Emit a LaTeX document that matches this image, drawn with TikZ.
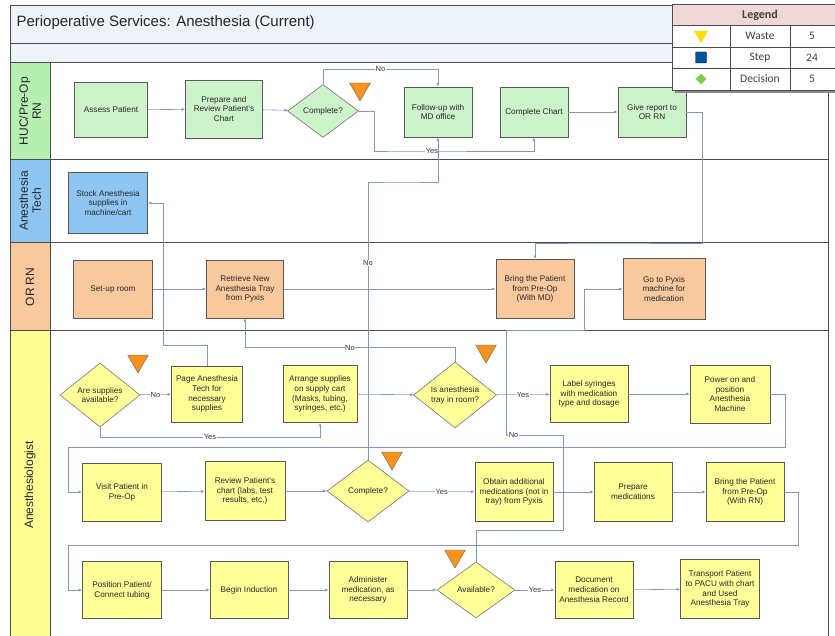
\documentclass[tikz,border=0pt]{standalone}
\usepackage{fontspec}
\setmainfont{Liberation Sans}
\newfontfamily\legendfont{Carlito}
\usetikzlibrary{shapes.geometric,arrows.meta}

\definecolor{hucgreen}{HTML}{CDF3CB}
\definecolor{huclane}{HTML}{B7EFB2}
\definecolor{techblue}{HTML}{8EC6F1}
\definecolor{ororange}{HTML}{F9C99E}
\definecolor{anyellow}{HTML}{FFFF99}
\definecolor{anlane}{HTML}{FFFF94}
\definecolor{wasteorange}{HTML}{F6921E}
\definecolor{flowline}{HTML}{7E97C6}
\definecolor{titlebg}{HTML}{EEF2F9}
\definecolor{legendpink}{HTML}{F1D8D8}

\tikzset{
  stepbox/.style={draw=black!65, fill=#1, line width=0.8pt, align=center,
    inner sep=1pt, text=black!85, font=\fontsize{8.2}{9.8}\selectfont},
  decision/.style={diamond, draw=black!55, fill=#1, line width=0.6pt, align=center,
    inner sep=0pt, text=black!85, font=\fontsize{8.2}{9.8}\selectfont},
  waste/.style={regular polygon, regular polygon sides=3, shape border rotate=180,
    draw=black!60, fill=wasteorange, minimum size=24pt, inner sep=0pt},
  flow/.style={draw=flowline, line width=0.6pt, -{Latex[length=3.5pt,width=3pt]}},
  lbl/.style={font=\fontsize{7.5}{8}\selectfont, fill=white, inner sep=0.6pt, text=black!80},
  lanelbl/.style={rotate=90, align=center, font=\fontsize{12}{13}\selectfont, text=black!85},
  legendtxt/.style={font=\legendfont\fontsize{11.5}{12}\selectfont, text=black!75}
}

\begin{document}
\begin{tikzpicture}[x=1pt, y=-1pt]
\useasboundingbox (0,0) rectangle (835,636);

% frame and lanes
\fill[titlebg] (10,5) rectangle (828,63);
\fill[huclane] (10,63) rectangle (50,160);
\fill[techblue] (10,160) rectangle (50,243);
\fill[ororange] (10,243) rectangle (50,330);
\fill[anlane] (10,330) rectangle (50,636);
\draw[black!70, line width=0.8pt] (10,636) -- (10,5) -- (828,5) -- (828,636);
\draw[black!70, line width=0.8pt] (10,43) -- (828,43);
\foreach \ly in {63,160,243,330}
  \draw[black!70, line width=1pt] (10,\ly) -- (828,\ly);
\draw[black!70, line width=0.8pt] (50,63) -- (50,636);
\node[anchor=west, font=\fontsize{15}{16}\selectfont, text=black!85] (title) at (13,23)
  {Perioperative Services: Anesthesia (Current)};

\node[lanelbl] (lanehuc) at (30,111) {HUC/Pre-Op\\RN};
\node[lanelbl] (lanetech) at (30,201) {Anesthesia\\Tech};
\node[lanelbl] (laneor) at (30,287) {OR RN};
\node[lanelbl] (lanean) at (30,485) {Anesthesiologist};

% HUC/Pre-Op RN
\node[stepbox=hucgreen, minimum width=73pt, minimum height=55pt] (assess) at (111,110) {Assess Patient};
\node[stepbox=hucgreen, minimum width=77pt, minimum height=58pt] (prepare) at (224,109) {Prepare and\\Review Patient's\\Chart};
\node[decision=hucgreen, minimum width=71pt, minimum height=53pt] (hcomp) at (323,111) {Complete?};
\node[waste] (hwaste) at (360,89) {};
\node[stepbox=hucgreen, minimum width=68pt, minimum height=50pt] (follow) at (438,112) {Follow-up with\\MD office};
\node[stepbox=hucgreen, minimum width=68pt, minimum height=50pt] (cchart) at (534,112) {Complete Chart};
\node[stepbox=hucgreen, minimum width=68pt, minimum height=50pt] (report) at (652,112) {Give report to\\OR RN};

% Anesthesia Tech
\node[stepbox=techblue, minimum width=79pt, minimum height=61pt] (stock) at (108,203) {Stock Anesthesia\\supplies in\\machine/cart};

% OR RN
\node[stepbox=ororange, minimum width=79pt, minimum height=58pt] (setup) at (113,289) {Set-up room};
\node[stepbox=ororange, minimum width=77pt, minimum height=58pt] (retrieve) at (245,289) {Retrieve New\\Anesthesia Tray\\from Pyxis};
\node[stepbox=ororange, minimum width=78pt, minimum height=59pt] (bringmd) at (535,289) {Bring the Patient\\from Pre-Op\\(With MD)};
\node[stepbox=ororange, minimum width=82pt, minimum height=61pt] (pyxis) at (664,289) {Go to Pyxis\\machine for\\medication};

% Anesthesiologist
\node[decision=anyellow, minimum width=80pt, minimum height=64pt] (supplies) at (100,395) {Are supplies\\available?};
\node[waste] (swaste) at (138,361) {};
\node[stepbox=anyellow, minimum width=71pt, minimum height=56pt] (page) at (207,394) {Page Anesthesia\\Tech for\\necessary\\supplies};
\node[stepbox=anyellow, minimum width=74pt, minimum height=57pt] (arrange) at (320,394) {Arrange supplies\\on supply cart\\(Masks, tubing,\\syringes, etc.)};
\node[decision=anyellow, minimum width=83pt, minimum height=66pt] (tray) at (455,395) {Is anesthesia\\tray in room?};
\node[waste] (twaste) at (486,351) {};
\node[stepbox=anyellow, minimum width=78pt, minimum height=57pt] (label) at (589,394) {Label syringes\\with medication\\type and dosage};
\node[stepbox=anyellow, minimum width=80pt, minimum height=58pt] (power) at (730,394) {Power on and\\position\\Anesthesia\\Machine};

\node[stepbox=anyellow, minimum width=79pt, minimum height=58pt] (visit) at (122,492) {Visit Patient in\\Pre-Op};
\node[stepbox=anyellow, minimum width=80pt, minimum height=59pt] (review) at (245,491) {Review Patient's\\chart (labs, test\\results, etc.)};
\node[decision=anyellow, minimum width=82pt, minimum height=62pt] (acomp) at (368,491) {Complete?};
\node[waste] (awaste) at (392,458) {};
\node[stepbox=anyellow, minimum width=78pt, minimum height=59pt] (obtain) at (514,492) {Obtain additional\\medications (not in\\tray) from Pyxis};
\node[stepbox=anyellow, minimum width=78pt, minimum height=59pt] (prepmed) at (633,492) {Prepare\\medications};
\node[stepbox=anyellow, minimum width=78pt, minimum height=59pt] (bringrn) at (745,492) {Bring the Patient\\from Pre-Op\\(With RN)};

\node[stepbox=anyellow, minimum width=79pt, minimum height=57pt] (position) at (122,590) {Position Patient/\\Connect tubing};
\node[stepbox=anyellow, minimum width=78pt, minimum height=57pt] (induct) at (249,590) {Begin Induction};
\node[stepbox=anyellow, minimum width=78pt, minimum height=57pt] (admin) at (368,590) {Administer\\medication, as\\necessary};
\node[decision=anyellow, minimum width=78pt, minimum height=56pt] (avail) at (476,590) {Available?};
\node[waste] (vwaste) at (455,556) {};
\node[stepbox=anyellow, minimum width=78pt, minimum height=57pt] (document) at (594,590) {Document\\medication on\\Anesthesia Record};
\node[stepbox=anyellow, minimum width=79pt, minimum height=59pt] (transport) at (720,589) {Transport Patient\\to PACU with chart\\and Used\\Anesthesia Tray};

% connectors
\draw[flow] (assess) -- (prepare);
\draw[flow] (prepare) -- (hcomp);
\draw[flow] (hcomp.north) -- ++(0,-15) -| node[lbl, pos=0.25] {No} (follow.north);
\draw[flow] (hcomp.east) -- (374,111) |- (400,151) -| (cchart.south);
\node[lbl] (hyes) at (432,151) {Yes};
\draw[flow] (cchart) -- (report);
\draw[flow] (report.east) -- (702,112) |- (600,243) -| (bringmd.north);
\draw[flow] (acomp.north) |- (400,182) -| (follow.south);
\node[lbl] (ano) at (368,263) {No};
\draw[flow] (page.north) |- (163,345) |- (stock.east);
\draw[flow] (setup) -- (retrieve);
\draw[flow] (retrieve) -- (bringmd);
\draw[flow] (avail.north) |- (563,530) |- (506,435) |- (584,330) |- (pyxis.west);
\node[lbl, anchor=west] (vno) at (508,435) {No};
\draw[flow] (supplies) -- node[lbl] {No} (page);
\draw[flow] (supplies.south) -- ++(0,10) -| node[lbl, pos=0.25] {Yes} (arrange.south);
\draw[flow] (arrange) -- (tray);
\draw[flow] (tray.north) -- ++(0,-14) -| node[lbl, pos=0.25] {No} (retrieve.south);
\draw[flow] (tray) -- node[lbl] {Yes} (label);
\draw[flow] (label) -- (power);
\draw[flow] (power.east) -- ++(15,0) |- (68,447) |- (visit.west);
\draw[flow] (visit) -- (review);
\draw[flow] (review) -- (acomp);
\draw[flow] (acomp) -- node[lbl] {Yes} (obtain);
\draw[flow] (obtain) -- (prepmed);
\draw[flow] (prepmed) -- (bringrn);
\draw[flow] (bringrn.east) -- ++(14,0) |- (68,545) |- (position.west);
\draw[flow] (position) -- (induct);
\draw[flow] (induct) -- (admin);
\draw[flow] (admin) -- (avail);
\draw[flow] (avail) -- node[lbl] {Yes} (document);
\draw[flow] (document) -- (transport);

% legend
\fill[black!45] (675,8) rectangle (838,93);
\fill[white] (672,4) rectangle (835,90);
\fill[legendpink] (672,4) rectangle (835,25);
\draw[black!70, line width=0.8pt] (672,4) rectangle (835,90);
\foreach \ry in {25,47,68}
  \draw[black!70, line width=0.6pt] (672,\ry) -- (835,\ry);
\draw[black!70, line width=0.6pt] (730,25) -- (730,90) (790,25) -- (790,90);
\node[legendtxt, font=\legendfont\bfseries\fontsize{12}{13}\selectfont] (legend) at (760,15) {Legend};
\node[regular polygon, regular polygon sides=3, shape border rotate=180, fill=yellow!80!orange,
  minimum size=16pt, inner sep=0pt] (lwaste) at (701,35) {};
\node[fill=blue!45!cyan!60!black, draw=blue!40!black, minimum size=11pt, inner sep=0pt,
  rounded corners=1pt] (lstep) at (701,57.5) {};
\node[diamond, fill=green!45!olive!70, minimum size=11pt, inner sep=0pt] (ldec) at (701,79) {};
\node[legendtxt] (lgwaste) at (760,36) {Waste};
\node[legendtxt] (lgstep) at (760,57.5) {Step};
\node[legendtxt] (lgdec) at (760,79) {Decision};
\node[legendtxt] (lnwaste) at (812,36) {5};
\node[legendtxt] (lnstep) at (812,57.5) {24};
\node[legendtxt] (lndec) at (812,79) {5};
\end{tikzpicture}
\end{document}
